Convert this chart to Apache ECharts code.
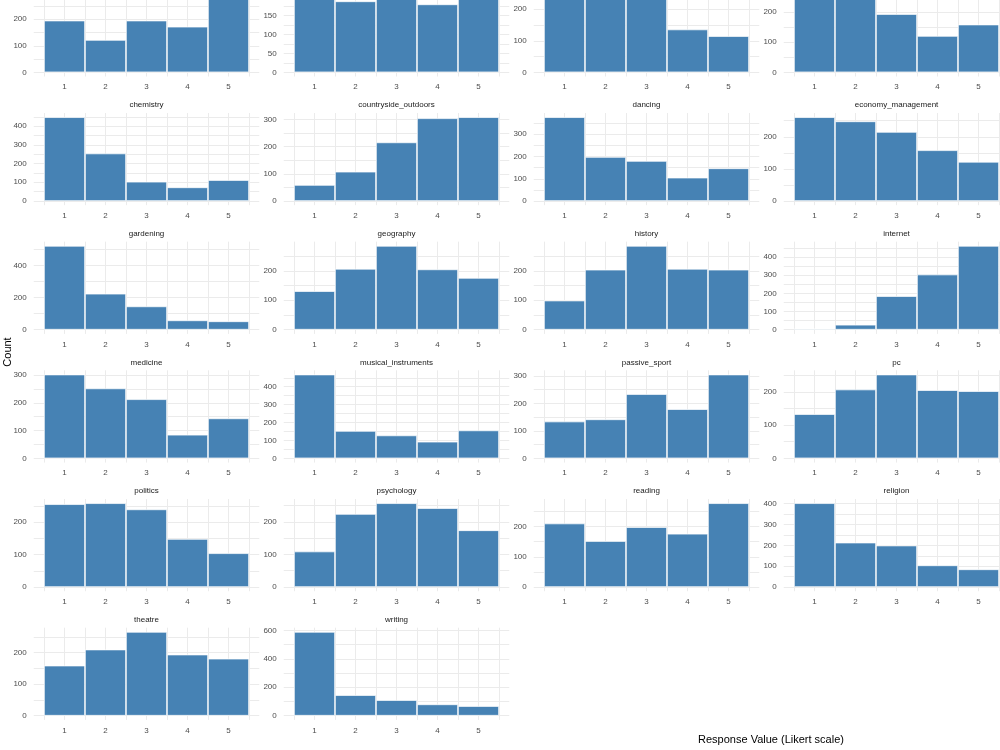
<!DOCTYPE html>
<html>
<head>
<meta charset="utf-8">
<script src="https://cdn.jsdelivr.net/npm/echarts@6/dist/echarts.min.js"></script>
<style>
  html, body { margin: 0; padding: 0; background: #fff; }
  #chart { width: 1000px; height: 750px; }
</style>
</head>
<body>
<div id="chart"></div>
<script>
// likert responses on the x axis
const likert = [1, 2, 3, 4, 5];

// counts per response, one array per facet
const activeSport = [195, 122, 195, 172, 316];
const artExhibitions = [206, 188, 222, 180, 212];
const biology = [258, 246, 266, 136, 115];
const cars = [279, 252, 194, 121, 159];
const chemistry = [448, 254, 103, 73, 112];
const countrysideOutdoors = [59, 108, 216, 305, 309];
const dancing = [377, 198, 180, 105, 147];
const economyManagement = [261, 248, 215, 158, 122];
const gardening = [522, 224, 145, 58, 52];
const geography = [131, 207, 285, 205, 176];
const history = [99, 204, 285, 207, 204];
const internet = [6, 27, 185, 304, 462];
const medicine = [302, 252, 213, 85, 144];
const musicalInstruments = [468, 153, 128, 93, 156];
const passiveSport = [134, 142, 234, 179, 305];
const pc = [133, 207, 252, 205, 202];
const politics = [255, 258, 239, 148, 104];
const psychology = [109, 224, 257, 242, 174];
const reading = [210, 152, 198, 176, 277];
const religion = [402, 213, 199, 104, 85];
const theatre = [159, 210, 266, 194, 181];
const writing = [590, 145, 110, 80, 68];

const facetNames = [
  'active_sport', 'art_exhibitions', 'biology', 'cars',
  'chemistry', 'countryside_outdoors', 'dancing', 'economy_management',
  'gardening', 'geography', 'history', 'internet',
  'medicine', 'musical_instruments', 'passive_sport', 'pc',
  'politics', 'psychology', 'reading', 'religion',
  'theatre', 'writing'
];
const facetCounts = [
  activeSport, artExhibitions, biology, cars,
  chemistry, countrysideOutdoors, dancing, economyManagement,
  gardening, geography, history, internet,
  medicine, musicalInstruments, passiveSport, pc,
  politics, psychology, reading, religion,
  theatre, writing
];
// y tick label step of each facet
const yBreakSteps = [
  100, 50, 100, 100,
  100, 100, 100, 100,
  200, 100, 100, 100,
  100, 100, 100, 100,
  100, 100, 100, 100,
  100, 200
];

const FONT = 'Liberation Sans, Arial, sans-serif';
const chart = echarts.init(document.getElementById('chart'));

const grids = [], xAxes = [], yAxes = [], series = [], texts = [];
const xGrid = [];
likert.forEach(v => xGrid.push(v - 0.5, v));
xGrid.push(likert[likert.length - 1] + 0.5);

facetNames.forEach((name, i) => {
  const values = facetCounts[i];
  const step = yBreakSteps[i];
  const r = Math.floor(i / 4), c = i % 4;
  const y0 = 72.3 + 128.68 * r;     // pixel row of count 0
  const left = 33.75 + 250 * c;
  const top = y0 - 88;
  const maxV = Math.max(...values);

  const yTicks = [], yLabels = [];
  for (let v = 0; v <= maxV * 1.05; v += step / 2) {
    yTicks.push(v);
    if (v % step === 0) yLabels.push(v);
  }

  grids.push({left: left, top: top, width: 225.5, height: 92.2, outerBoundsMode: 'none', containLabel: false});
  xAxes.push({
    gridIndex: i, type: 'value', min: 0.25, max: 5.75,
    axisLine: {show: false},
    axisTick: {show: false, customValues: xGrid},
    axisLabel: {customValues: likert, fontSize: 8, color: '#4d4d4d', fontFamily: FONT, margin: 6.5},
    splitLine: {show: true, lineStyle: {color: '#ebebeb', width: 1}}
  });
  yAxes.push({
    gridIndex: i, type: 'value', min: -0.05 * maxV, max: 1.05 * maxV,
    axisLine: {show: false},
    axisTick: {show: false, customValues: yTicks},
    axisLabel: {customValues: yLabels, fontSize: 8, color: '#4d4d4d', fontFamily: FONT, margin: 7},
    splitLine: {show: true, lineStyle: {color: '#ebebeb', width: 1}}
  });
  series.push({
    type: 'bar', xAxisIndex: i, yAxisIndex: i,
    data: likert.map((k, j) => [k, values[j]]),
    barWidth: 41,
    itemStyle: {color: '#4682b4', borderColor: '#ffffff', borderWidth: 0.7},
    silent: true
  });
  if (y0 - 96 > 0) {
    texts.push({
      type: 'text', x: 146.5 + 250 * c, y: y0 - 96,
      style: {text: name, fill: '#1a1a1a', font: '8px ' + FONT, align: 'center', verticalAlign: 'middle'}
    });
  }
});

texts.push({
  type: 'text', x: 771, y: 740,
  style: {text: 'Response Value (Likert scale)', fill: '#000', font: '11px ' + FONT, align: 'center', verticalAlign: 'middle'}
});
texts.push({
  type: 'text', x: 8, y: 352, rotation: Math.PI / 2,
  style: {text: 'Count', fill: '#000', font: '11px ' + FONT, align: 'center', verticalAlign: 'middle'}
});

chart.setOption({
  animation: false,
  backgroundColor: '#ffffff',
  grid: grids,
  xAxis: xAxes,
  yAxis: yAxes,
  series: series,
  graphic: texts
});
</script>
</body>
</html>
